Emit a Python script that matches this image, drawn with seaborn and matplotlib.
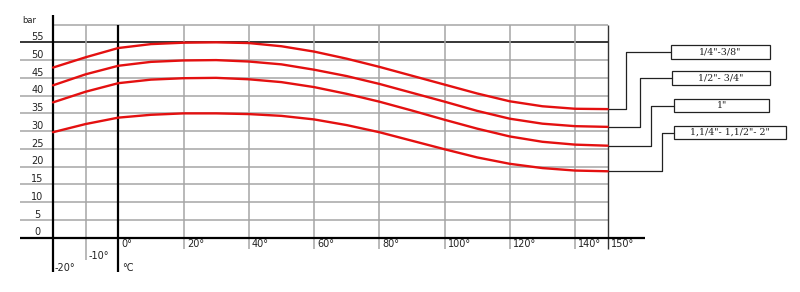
import numpy as np
import pandas as pd
import matplotlib
matplotlib.use("Agg")
import matplotlib.pyplot as plt
import seaborn as sns
from matplotlib.patches import Rectangle

# ---- data ----
temps = [-20, -10, 0, 10, 20, 30, 40, 50, 60, 70, 80, 90, 100, 110, 120, 130, 140, 150]
s_quarter = [47.9, 50.8, 53.4, 54.5, 54.9, 55.0, 54.8, 53.9, 52.4, 50.4, 48.1, 45.6, 43.1, 40.6, 38.4, 37.0, 36.3, 36.2]
s_half = [42.9, 46.0, 48.4, 49.5, 49.9, 50.0, 49.6, 48.8, 47.3, 45.5, 43.3, 40.8, 38.3, 35.7, 33.5, 32.1, 31.4, 31.2]
s_one = [38.1, 41.1, 43.5, 44.5, 44.9, 45.0, 44.6, 43.8, 42.4, 40.5, 38.3, 35.8, 33.2, 30.7, 28.5, 27.0, 26.2, 25.9]
s_big = [29.7, 32.0, 33.8, 34.6, 35.0, 35.0, 34.8, 34.3, 33.3, 31.7, 29.7, 27.3, 24.9, 22.6, 20.8, 19.6, 18.9, 18.7]
series_names = ['1/4"-3/8"', '1/2"- 3/4"', '1"', '1,1/4"- 1,1/2"- 2"']
series_values = [s_quarter, s_half, s_one, s_big]
y_ticks = [0, 5, 10, 15, 20, 25, 30, 35, 40, 45, 50, 55]
x_ticks_top = [0, 20, 40, 60, 80, 100, 120, 140, 150]
x_tick_labels_top = ["0°", "20°", "40°", "60°", "80°", "100°", "120°", "140°", "150°"]

rows = []
for name, vals in zip(series_names, series_values):
    for t, v in zip(temps, vals):
        rows.append({"temp": t, "bar": v, "size": name})
df = pd.DataFrame(rows)

sns.set_theme(style="white")
plt.rcParams['font.family'] = ['DejaVu Sans']

fig = plt.figure(figsize=(8, 2.92), dpi=100)
ax = fig.add_axes([0, 0, 1, 1])
ax.set_xlim(-36.25, 208.94)
ax.set_ylim(-15.29, 66.92)
ax.axis("off")

grey = "#a6a6a6"
# horizontal grid
for yv in y_ticks[1:-1]:
    ax.hlines(yv, -30.1, 150, color=grey, lw=1.1, zorder=1)
ax.hlines(60, -20, 150, color=grey, lw=1.1, zorder=1)
ax.hlines(55, -30.1, 150, color="black", lw=1.1, zorder=1)
ax.hlines(0, -30.1, 161.4, color="black", lw=1.6, zorder=2)
# vertical grid
for xv in [20, 40, 60, 80, 100, 120, 140]:
    ax.vlines(xv, -3.2, 60, color=grey, lw=1.1, zorder=1)
ax.vlines(-10, -6.3, 60, color=grey, lw=1.1, zorder=1)
ax.vlines(150, -3.2, 60, color="#333333", lw=1.0, zorder=1)
ax.vlines(-20, -9.66, 62.7, color="black", lw=1.6, zorder=2)
ax.vlines(0, -9.66, 60, color="black", lw=1.6, zorder=2)

# curves
sns.lineplot(data=df, x="temp", y="bar", hue="size", hue_order=series_names,
             palette=["#e41010"] * 4, linewidth=1.7, legend=False, ax=ax, zorder=3)

# y labels
tick_font = dict(fontsize=7, color="#222222")
for yv in y_ticks:
    ax.text(-24.8, yv + 1.5, str(yv), ha="center", va="center", **tick_font)
ax.text(-27.2, 61.2, "bar", ha="center", va="center", fontsize=6, color="#222222")

# x labels
for xv, lab in zip(x_ticks_top, x_tick_labels_top):
    ax.text(xv + 1.0, -1.9, lab, ha="left", va="center", **tick_font)
ax.text(-9.0, -5.2, "-10°", ha="left", va="center", **tick_font)
ax.text(-19.4, -8.5, "-20°", ha="left", va="center", **tick_font)
ax.text(1.2, -8.5, "°C", ha="left", va="center", **tick_font)

# leader lines and boxes
elbow_x = [155.6, 160.0, 163.3, 166.5]
box_y = [52.2, 45.05, 37.2, 29.6]
box_left = [169.3, 169.8, 170.4, 170.4]
box_right = [199.7, 199.7, 199.4, 204.6]
box_half_h = [1.92, 2.0, 1.9, 1.9]
for i, vals in enumerate(series_values):
    y_end = vals[-1]
    ax.plot([150, elbow_x[i], elbow_x[i], box_left[i]],
            [y_end, y_end, box_y[i], box_y[i]], color="#222222", lw=0.9, zorder=2)
    ax.add_patch(Rectangle((box_left[i], box_y[i] - box_half_h[i]),
                           box_right[i] - box_left[i], 2 * box_half_h[i],
                           fill=False, edgecolor="#222222", lw=0.9, zorder=2))
    ax.text((box_left[i] + box_right[i]) / 2, box_y[i], series_names[i],
            ha="center", va="center", fontsize=6.8, color="#222222",
            family=["DejaVu Serif"])

fig.savefig("out.png", dpi=100)
